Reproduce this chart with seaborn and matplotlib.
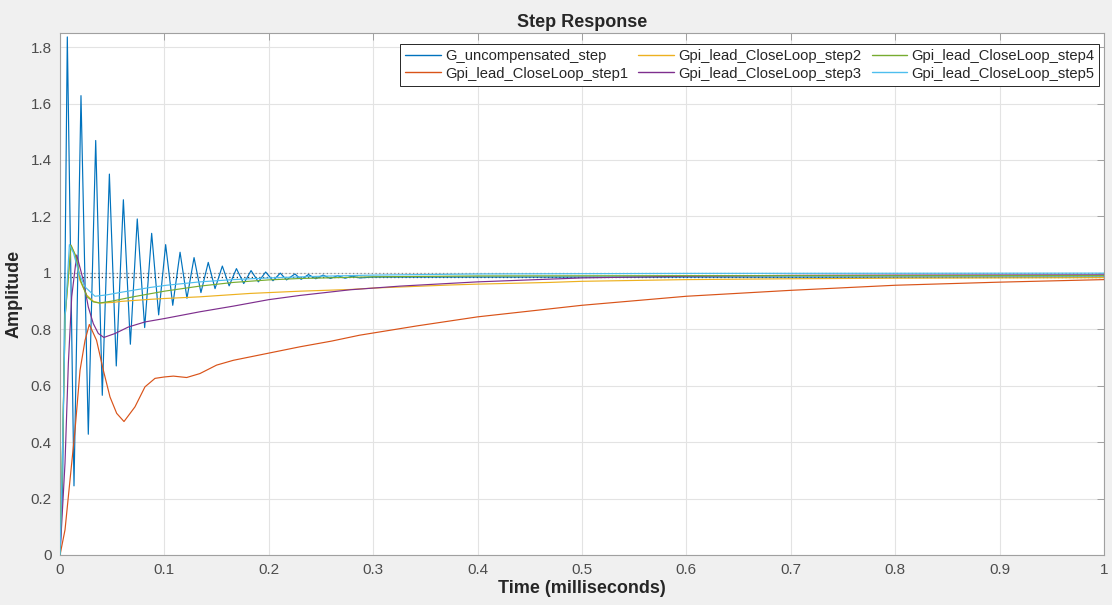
import numpy as np
import pandas as pd
import matplotlib
matplotlib.use("Agg")
import matplotlib.pyplot as plt
import seaborn as sns

# ---------------- data ----------------
series_names = ["G_uncompensated_step", "Gpi_lead_CloseLoop_step1", "Gpi_lead_CloseLoop_step2",
                "Gpi_lead_CloseLoop_step3", "Gpi_lead_CloseLoop_step4", "Gpi_lead_CloseLoop_step5"]
series_colors = ["#0072BD", "#D95319", "#EDB120", "#7E2F8E", "#77AC30", "#4DBEEE"]

# G_uncompensated_step: start, then alternating peaks / troughs, then settled value
g_t = [0.0, 0.0025, 0.0045, 0.0070, 0.0134, 0.0201, 0.0271, 0.0342, 0.0405, 0.0473, 0.0539,
       0.0607, 0.0674, 0.0740, 0.0811, 0.0878, 0.0945, 0.1012, 0.1080, 0.1150, 0.1216,
       0.1284, 0.1350, 0.1420, 0.1485, 0.1555, 0.1620, 0.1690, 0.1760, 0.1830, 0.1900,
       0.1970, 0.2040, 0.2110, 0.2170, 0.2250, 0.2310, 0.2380, 0.2450, 0.2520, 0.2590,
       0.2660, 0.2730, 0.2800, 0.2870, 0.3000, 0.5000, 1.0000]
g_y = [0.0, 0.25, 0.90, 1.836, 0.245, 1.628, 0.428, 1.469, 0.566, 1.350, 0.670,
       1.259, 0.747, 1.191, 0.806, 1.140, 0.851, 1.100, 0.885, 1.073, 0.910,
       1.054, 0.930, 1.037, 0.944, 1.024, 0.954, 1.015, 0.962, 1.008, 0.968,
       1.003, 0.972, 0.999, 0.975, 0.996, 0.977, 0.994, 0.979, 0.992, 0.980,
       0.990, 0.981, 0.988, 0.982, 0.985, 0.985, 0.985]

s1_t = [0.0, 0.0048, 0.0096, 0.0144, 0.0192, 0.0240, 0.0281, 0.0350, 0.0415, 0.0479, 0.0543,
        0.0613, 0.0718, 0.0814, 0.0910, 0.1000, 0.1086, 0.1213, 0.1340, 0.1500, 0.1660,
        0.1980, 0.2300, 0.2600, 0.2870, 0.3420, 0.4000, 0.5000, 0.6000, 0.7000, 0.8000,
        0.9000, 1.0000]
s1_y = [0.0, 0.089, 0.266, 0.443, 0.655, 0.761, 0.817, 0.761, 0.655, 0.560, 0.502,
        0.473, 0.525, 0.596, 0.626, 0.631, 0.634, 0.629, 0.643, 0.673, 0.690,
        0.714, 0.738, 0.758, 0.779, 0.812, 0.844, 0.885, 0.917, 0.938, 0.956,
        0.967, 0.976]

s2_t = [0.0, 0.0020, 0.0050, 0.0105, 0.0150, 0.0190, 0.0256, 0.0320, 0.0380, 0.0500, 0.0590,
        0.0860, 0.1000, 0.1340, 0.1820, 0.2300, 0.2780, 0.3000, 0.3740, 0.4000, 0.4690,
        0.5000, 0.6000, 0.7000, 0.8000, 0.9000, 1.0000]
s2_y = [0.0, 0.30, 0.85, 1.098, 1.060, 0.974, 0.921, 0.899, 0.893, 0.895, 0.899,
        0.906, 0.909, 0.915, 0.927, 0.935, 0.941, 0.946, 0.957, 0.960, 0.966,
        0.970, 0.976, 0.979, 0.981, 0.982, 0.983]

s3_t = [0.0, 0.0048, 0.0080, 0.0112, 0.0160, 0.0223, 0.0271, 0.0319, 0.0367, 0.0420, 0.0527,
        0.0655, 0.0814, 0.1000, 0.1340, 0.1660, 0.2000, 0.2300, 0.2780, 0.3260, 0.4000,
        0.5000, 0.6000, 0.7000, 0.8000, 1.0000]
s3_y = [0.0, 0.326, 0.679, 0.915, 1.063, 0.974, 0.879, 0.820, 0.785, 0.771, 0.785,
        0.808, 0.826, 0.838, 0.862, 0.882, 0.905, 0.920, 0.940, 0.953, 0.968,
        0.982, 0.988, 0.991, 0.992, 0.993]

s4_t = [0.0, 0.0020, 0.0050, 0.0105, 0.0150, 0.0200, 0.0260, 0.0320, 0.0380, 0.0500, 0.0700,
        0.1000, 0.1340, 0.1660, 0.2000, 0.2300, 0.3000, 0.4000, 0.6000, 1.0000]
s4_y = [0.0, 0.30, 0.85, 1.098, 1.060, 0.970, 0.915, 0.897, 0.893, 0.900, 0.915,
        0.935, 0.953, 0.966, 0.975, 0.980, 0.986, 0.989, 0.990, 0.990]

s5_t = [0.0, 0.0020, 0.0050, 0.0090, 0.0130, 0.0180, 0.0240, 0.0335, 0.0450, 0.0600, 0.0860,
        0.1020, 0.1340, 0.1660, 0.2000, 0.2500, 0.3000, 0.4000, 0.6000, 1.0000]
s5_y = [0.0, 0.30, 0.85, 1.100, 1.070, 1.000, 0.950, 0.917, 0.922, 0.932, 0.948,
        0.956, 0.968, 0.976, 0.982, 0.988, 0.992, 0.996, 0.998, 0.999]

steady_values = [1.0, 0.985]
steady_colors = ["#8C8C8C", "#333333"]

x_ticks = [0, 0.1, 0.2, 0.3, 0.4, 0.5, 0.6, 0.7, 0.8, 0.9, 1.0]
x_ticklabels = ["0", "0.1", "0.2", "0.3", "0.4", "0.5", "0.6", "0.7", "0.8", "0.9", "1"]
y_ticks = [0, 0.2, 0.4, 0.6, 0.8, 1.0, 1.2, 1.4, 1.6, 1.8]
y_ticklabels = ["0", "0.2", "0.4", "0.6", "0.8", "1", "1.2", "1.4", "1.6", "1.8"]

# ---------------- build long table ----------------
all_t = [g_t, s1_t, s2_t, s3_t, s4_t, s5_t]
all_y = [g_y, s1_y, s2_y, s3_y, s4_y, s5_y]
frames = []
for name, t, y in zip(series_names, all_t, all_y):
    frames.append(pd.DataFrame({"t": t, "y": y, "series": name}))
df = pd.concat(frames, ignore_index=True)

# ---------------- plot ----------------
sns.set_theme(style="white")
plt.rcParams["font.family"] = ["Liberation Sans", "DejaVu Sans"]

fig = plt.figure(figsize=(11.12, 6.05), dpi=100, facecolor="#F0F0F0")
ax = fig.add_axes([60 / 1112, 50 / 605, 1044 / 1112, 522 / 605])
ax.set_facecolor("white")

for v, c in zip(steady_values, steady_colors):
    ax.axhline(v, color=c, linestyle=(0, (1, 2)), linewidth=0.9, zorder=1)

sns.lineplot(data=df, x="t", y="y", hue="series", hue_order=series_names,
             palette=series_colors, estimator=None, sort=True, linewidth=0.85, ax=ax, zorder=3)

ax.set_xlim(0, 1)
ax.set_ylim(0, 1.85)
ax.set_xticks(x_ticks)
ax.set_xticklabels(x_ticklabels)
ax.set_yticks(y_ticks)
ax.set_yticklabels(y_ticklabels)
ax.grid(True, color="#E3E3E3", linewidth=0.8)
ax.set_axisbelow(True)
ax.tick_params(direction="in", length=5, width=0.7, colors="#A0A0A0", labelcolor="#4D4D4D",
               labelsize=11, top=True, right=True, pad=6)
for s in ax.spines.values():
    s.set_color("#A0A0A0")
    s.set_linewidth(0.8)

ax.set_title("Step Response", fontsize=13, fontweight="bold", pad=4)
ax.set_xlabel("Time (milliseconds)", fontsize=13, fontweight="bold", labelpad=2)
ax.set_ylabel("Amplitude", fontsize=13, fontweight="bold", labelpad=6)

handles, labels = ax.get_legend_handles_labels()
leg = ax.legend(handles, labels, ncol=3, loc="upper right", bbox_to_anchor=(0.9985, 0.985),
                fontsize=10.6, frameon=True, fancybox=False, framealpha=1, edgecolor="#262626",
                handlelength=2.4, handletextpad=0.3, columnspacing=0.7, labelspacing=0.25,
                borderpad=0.35, borderaxespad=0.2)
leg.get_frame().set_linewidth(0.7)
for line in leg.get_lines():
    line.set_linewidth(1.0)

fig.savefig("out.png", dpi=100, facecolor=fig.get_facecolor())
